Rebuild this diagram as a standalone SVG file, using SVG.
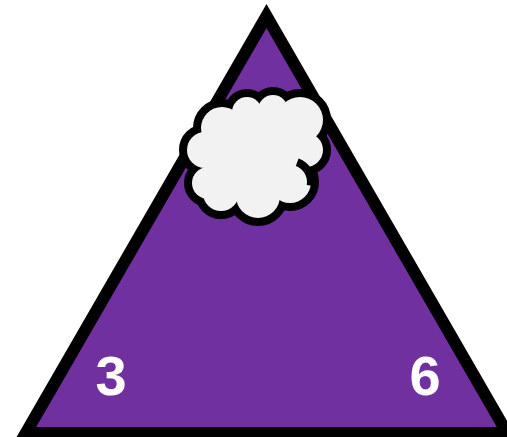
<svg xmlns="http://www.w3.org/2000/svg" width="507" height="437" viewBox="0 0 507 437">
<style>
.lbl{font-family:"Liberation Sans",Arial,sans-serif;font-weight:bold;font-size:56px;fill:#ffffff}
.cs{fill:#000000;stroke:#000000;stroke-width:16}
.cf{fill:#f2f2f2}
</style>
<defs>
<g id="lobes">
<circle cx="205" cy="150" r="18"/>
<circle cx="222" cy="128" r="21"/>
<circle cx="247" cy="112" r="15"/>
<circle cx="273" cy="110" r="15"/>
<circle cx="300" cy="120" r="23"/>
<circle cx="306" cy="150" r="17"/>
<circle cx="290" cy="182" r="21"/>
<circle cx="258" cy="196" r="22"/>
<circle cx="221" cy="193" r="18"/>
<circle cx="208" cy="183" r="16"/>
<circle cx="255" cy="155" r="45"/>
</g>
</defs>
<rect width="507" height="437" fill="#ffffff"/>
<g id="triangle">
<polygon points="266.5,16 25.8,433 507.2,433" fill="#7030a0" stroke="#000000" stroke-width="12" stroke-linejoin="miter" stroke-miterlimit="10"/>
</g>
<g id="cloud">
<use href="#lobes" class="cs"/>
<use href="#lobes" class="cf"/>
<circle class="cf" cx="222" cy="166" r="16"/>
<path d="M297.2,162.3 A21,21 0 0 1 310.7,185.6" fill="none" stroke="#000000" stroke-width="8"/>
</g>
<g id="labels">
<text class="lbl" x="111" y="395" text-anchor="middle">3</text>
<text class="lbl" x="425" y="395" text-anchor="middle">6</text>
</g>
</svg>
